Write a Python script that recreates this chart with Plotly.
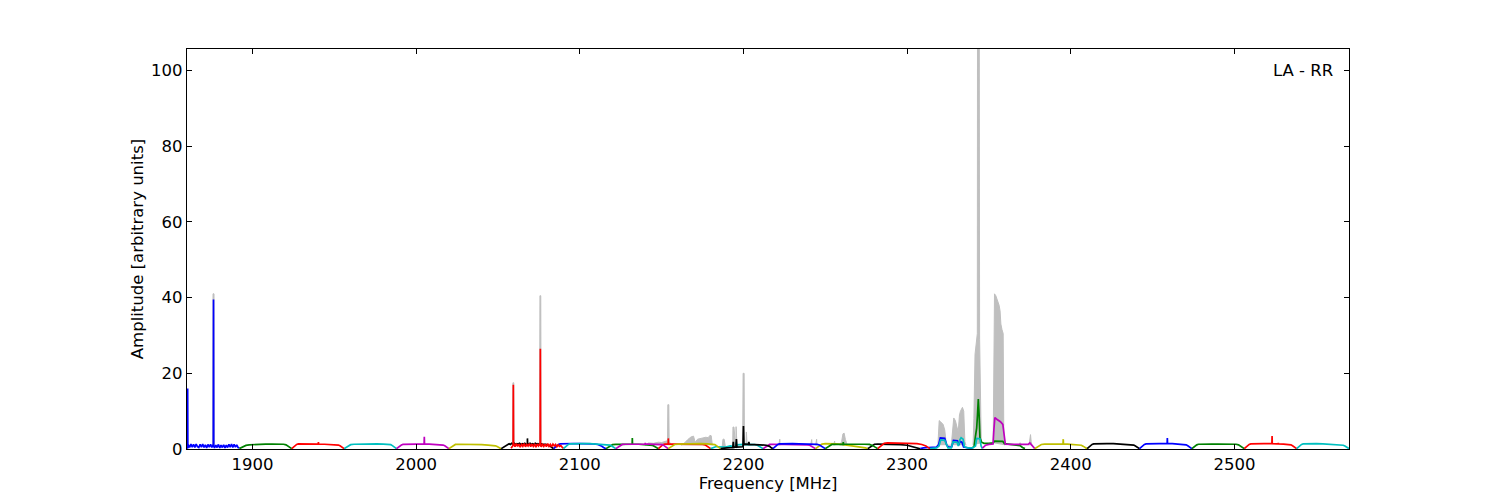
import numpy as np
import plotly.graph_objects as go

# ---------------- data ----------------
WIDTH_MHZ = 32.0
START_A = 1860.0          # first set of 16 sub-bands
START_B = 2058.0          # second set of 16 sub-bands
X_RANGE = [1860.0, 2570.0]
Y_RANGE = [0.0, 105.7]
X_TICKS = [1900, 2000, 2100, 2200, 2300, 2400, 2500]
Y_TICKS = [0, 20, 40, 60, 80, 100]
COLOR_CYCLE = ['#0000ff', '#008000', '#ff0000', '#00bfbf', '#bf00bf', '#bfbf00', '#000000']
GRAY = '#bfbfbf'
LABEL = 'LA - RR'

# channel offsets (MHz inside a sub-band) for the standard bandpass lists
CH_OFFS = [0, 1, 2, 3, 4, 6, 9, 12, 16, 20, 24, 27, 28.5, 29.5, 30.5, 31.3, 32]

# --- set A (start 1860, 32 MHz each) ---
A00 = [0.3, 1.1, 0.4, 1.3, 0.5, 1.2, 0.4, 1.3, 0.6, 0.4, 1.2, 0.5, 1.3, 0.4, 1.1, 0.3, 1.2, 0.5, 1.2, 0.4,
       1.1, 0.3, 1.0, 0.4, 1.2, 0.3, 1.0, 0.4, 1.1, 0.3, 1.0, 0.4, 1.2, 0.5, 1.3, 0.4, 1.2, 0.5, 1.1, 0.4, 0.3]
A01 = [0.1, 0.3, 0.55, 0.8, 0.95, 1.1, 1.2, 1.25, 1.3, 1.3, 1.3, 1.25, 1.1, 0.85, 0.55, 0.25, 0.1]
A02 = [0.1, 0.5, 0.9, 1.2, 1.35, 1.35, 1.3, 1.3, 1.25, 1.25, 1.2, 1.15, 1.05, 0.85, 0.55, 0.25, 0.1]
A03 = [0.1, 0.4, 0.75, 1.0, 1.15, 1.25, 1.3, 1.3, 1.35, 1.35, 1.3, 1.25, 1.15, 0.9, 0.6, 0.3, 0.1]
A04 = [0.1, 0.45, 0.8, 1.05, 1.2, 1.25, 1.3, 1.3, 1.3, 1.3, 1.25, 1.2, 1.05, 0.85, 0.55, 0.25, 0.1]
A05 = [0.1, 0.4, 0.8, 1.05, 1.2, 1.25, 1.25, 1.25, 1.2, 1.15, 1.05, 0.95, 0.85, 0.65, 0.4, 0.2, 0.05]
A06 = [0.1, 0.3, 0.6, 0.9, 1.1, 1.3, 1.4, 1.2, 1.5, 1.3, 1.5, 1.2, 1.4, 1.3, 1.5, 1.2, 1.4, 1.3, 1.5, 1.1,
       1.4, 1.3, 1.5, 1.2, 1.4, 1.2, 1.5, 1.3, 1.4, 1.2, 1.4, 1.3, 1.3, 1.2, 1.2, 1.1, 1.0, 0.8, 0.6, 0.3, 0.1]
A07 = [0.1, 0.5, 0.9, 1.2, 1.35, 1.4, 1.45, 1.45, 1.4, 1.4, 1.35, 1.2, 1.0, 0.7, 0.4, 0.2, 0.05]
A08 = [0.1, 0.4, 0.75, 1.0, 1.15, 1.2, 1.25, 1.25, 1.25, 1.25, 1.2, 1.1, 0.95, 0.7, 0.4, 0.2, 0.1]
A09 = [0.1, 0.5, 0.9, 1.2, 1.3, 1.3, 1.3, 1.3, 1.25, 1.25, 1.25, 1.2, 1.1, 0.85, 0.55, 0.25, 0.1]
A10 = [0.1, 0.3, 0.5, 0.6, 0.6, 0.5, 0.5, 0.8, 1.1, 1.2, 1.2, 1.15, 1.0, 0.8, 0.5, 0.25, 0.1]
A11 = [0.1, 0.4, 0.8, 1.05, 1.2, 1.25, 1.25, 1.25, 1.25, 1.2, 1.15, 1.1, 1.0, 0.8, 0.5, 0.25, 0.1]
A12 = [0.1, 0.4, 0.8, 1.1, 1.3, 1.4, 1.4, 1.35, 1.2, 1.0, 0.8, 0.6, 0.5, 0.4, 0.3, 0.2, 0.1]
A13 = [0.1, 0.4, 0.8, 1.1, 1.25, 1.3, 1.3, 1.3, 1.25, 1.15, 1.0, 0.7, 0.5, 0.35, 0.2, 0.1, 0.05]
A14_F = [2308, 2310, 2313, 2318, 2319.3, 2320.3, 2323, 2324.3, 2325.5, 2327.3, 2328.3, 2330.8, 2331.5,
         2332.3, 2333.5, 2334.5, 2336, 2338, 2340]
A14_V = [0.1, 0.3, 0.4, 0.5, 1.2, 2.9, 2.8, 0.9, 0.5, 0.6, 2.3, 2.2, 1.0, 2.0, 1.8, 0.5, 0.4, 0.3, 0.1]
A15_F = [2340, 2341, 2341.8, 2342.5, 2343, 2343.5, 2344, 2344.5, 2345.5, 2347, 2350, 2352.5, 2353.5,
         2356, 2358.5, 2359.5, 2362, 2366, 2369, 2370.5, 2372]
A15_V = [0.3, 0.8, 3.5, 5.5, 9.0, 13.2, 9.0, 3.0, 1.8, 1.5, 1.5, 1.6, 2.1, 2.1, 2.0, 1.4, 1.3, 1.2, 0.9, 0.4, 0.1]

# --- set B (start 2058, 32 MHz each) ---
B00 = [0.2, 0.9, 1.4, 0.6, 1.4, 0.7, 1.3, 0.5, 1.2, 0.7, 1.4, 0.6, 1.2, 0.8, 1.4, 0.6, 1.3, 0.7, 1.2, 0.5,
       1.3, 0.8, 1.4, 0.6, 1.2, 0.7, 1.3, 0.6, 1.4, 0.7, 1.2, 0.6, 1.3, 0.8, 1.2, 0.6, 1.1, 0.7, 0.9, 0.5, 0.2]
B01 = [0.1, 0.5, 0.9, 1.2, 1.35, 1.4, 1.4, 1.4, 1.4, 1.35, 1.3, 1.2, 1.05, 0.8, 0.5, 0.25, 0.1]
B02 = [0.1, 0.4, 0.8, 1.05, 1.2, 1.25, 1.3, 1.3, 1.3, 1.3, 1.3, 1.25, 1.15, 0.9, 0.6, 0.3, 0.1]
B03 = [0.1, 0.4, 0.8, 1.05, 1.2, 1.3, 1.35, 1.4, 1.4, 1.4, 1.35, 1.3, 1.15, 0.9, 0.6, 0.3, 0.1]
B04_F = [2186, 2187, 2188.5, 2190, 2193.5, 2193.8, 2194.1, 2195.4, 2195.7, 2196, 2199.7, 2200, 2200.3,
         2201, 2203, 2203.3, 2203.6, 2206, 2210, 2214, 2216, 2217, 2218]
B04_V = [0.1, 0.2, 0.3, 0.3, 0.4, 1.9, 0.4, 0.5, 2.6, 0.5, 0.6, 6.1, 1.2, 1.3, 1.2, 1.9, 1.2, 1.1, 1.1, 1.0,
         0.7, 0.3, 0.1]
B05 = [0.1, 0.5, 0.9, 1.2, 1.35, 1.4, 1.4, 1.4, 1.35, 1.35, 1.3, 1.2, 1.05, 0.8, 0.5, 0.25, 0.1]
B06 = [0.1, 0.4, 0.8, 1.05, 1.2, 1.2, 1.15, 1.25, 1.3, 1.3, 1.25, 1.2, 1.0, 0.8, 0.5, 0.25, 0.1]
B07 = [0.1, 0.5, 0.9, 1.3, 1.5, 1.6, 1.6, 1.6, 1.55, 1.5, 1.4, 1.2, 1.0, 0.8, 0.5, 0.25, 0.1]
B08_F = [2314, 2316, 2318, 2319.5, 2320.5, 2323, 2324.3, 2325, 2327, 2328, 2330.5, 2331.3, 2332.3, 2333,
         2334.2, 2335, 2337, 2340, 2341.8, 2342.5, 2344.5, 2345.2, 2346]
B08_V = [0.1, 0.3, 0.3, 0.8, 2.4, 2.3, 0.8, 0.3, 0.3, 1.9, 1.8, 0.8, 2.5, 3.0, 2.6, 0.6, 0.3, 0.3, 0.8, 2.8,
         2.7, 0.8, 0.1]
B09_F = [2346, 2347, 2348, 2350, 2352.5, 2353, 2353.6, 2355, 2357, 2358.5, 2359.2, 2360, 2364, 2370, 2374,
         2375, 2376, 2377, 2378]
B09_V = [0.2, 0.6, 1.0, 1.2, 1.3, 5.0, 8.3, 7.8, 7.2, 6.5, 3.0, 1.3, 1.2, 1.1, 1.2, 1.6, 1.0, 0.5, 0.1]
B10 = [0.1, 0.4, 0.8, 1.05, 1.2, 1.3, 1.35, 1.35, 1.35, 1.3, 1.25, 1.15, 1.0, 0.75, 0.45, 0.2, 0.05]
B11 = [0.1, 0.5, 0.9, 1.2, 1.35, 1.4, 1.4, 1.4, 1.4, 1.35, 1.3, 1.2, 1.05, 0.8, 0.5, 0.25, 0.1]
B12 = [0.1, 0.5, 0.9, 1.2, 1.35, 1.4, 1.4, 1.4, 1.4, 1.4, 1.35, 1.25, 1.1, 0.85, 0.55, 0.25, 0.1]
B13 = [0.1, 0.45, 0.85, 1.1, 1.25, 1.3, 1.3, 1.3, 1.3, 1.3, 1.3, 1.25, 1.1, 0.85, 0.55, 0.25, 0.1]
B14 = [0.1, 0.5, 0.9, 1.2, 1.35, 1.4, 1.4, 1.4, 1.4, 1.35, 1.3, 1.25, 1.1, 0.85, 0.55, 0.25, 0.1]
B15 = [0.1, 0.5, 0.9, 1.2, 1.35, 1.4, 1.4, 1.4, 1.35, 1.3, 1.25, 1.15, 1.0, 0.8, 0.5, 0.25, 0.1]

# narrow RFI spikes kept in the sub-band data: (freq MHz, peak, local level)
SPIKES = {
    'A00': [(1860.4, 16.0, 0.3), (1876.2, 39.5, 0.8)],
    'A02': [(1940.3, 1.8, 1.3)],
    'A04': [(2005.0, 3.2, 1.3)],
    'A06': [(2068.0, 2.8, 1.3)],
    'A08': [(2132.1, 2.9, 1.25)],
    'A09': [(2154.1, 2.8, 1.3)],
    'A10': [(2195.5, 1.8, 0.5)],
    'B00': [(2059.4, 17.0, 1.0), (2075.9, 26.5, 1.0)],
    'B02': [(2140.0, 1.6, 1.3)],
    'B06': [(2261.0, 1.8, 1.2)],
    'B10': [(2395.4, 2.6, 1.35)],
    'B12': [(2459.0, 2.9, 1.4)],
    'B14': [(2523.0, 3.4, 1.4), (2526.8, 1.6, 1.35)],
}

# raw (unflagged) spectrum where it rises above the sub-band data, drawn in grey
RAW_F = [
    [1875.7, 1875.9, 1876.5, 1876.7],
    [2058.9, 2059.15, 2059.65, 2059.9],
    [2075.4, 2075.65, 2076.15, 2076.4],
    [2140, 2142, 2145, 2148, 2150, 2152, 2153.6, 2153.8, 2154.4, 2154.6, 2156],
    [2162, 2164, 2166, 2168, 2169.5, 2170.5, 2172, 2175, 2177, 2178.5, 2179.5, 2180.3, 2181],
    [2187, 2187.5, 2188.2, 2189, 2193.4, 2193.6, 2194.2, 2195.3, 2195.5, 2196.1, 2199.5, 2199.8, 2200.4,
     2200.6, 2201.5, 2201.8, 2202.2, 2203],
    [2221.6, 2221.8, 2222.2, 2222.4],
    [2241.1, 2241.3, 2241.7, 2241.9],
    [2244.1, 2244.3, 2244.7, 2244.9],
    [2255.1, 2255.3, 2255.7, 2255.9],
    [2259, 2260, 2260.8, 2261.5, 2262.3, 2263.5],
    [2318.8, 2319.6, 2320.2, 2321.0, 2322.0, 2323.0, 2323.5, 2324.0, 2327.0, 2327.8, 2328.5, 2329.5,
     2330.5, 2331.2, 2332.0, 2332.6, 2333.8, 2334.6, 2335.3, 2336.0],
    [2340.3, 2340.8, 2341.5, 2342.2, 2342.9, 2343.0, 2344.1, 2344.3, 2344.8, 2345.3],
    [2352.6, 2353.0, 2353.4, 2354.2, 2355.2, 2356.2, 2356.8, 2357.3, 2358.0, 2358.7, 2359.1, 2359.5],
    [2368.5, 2368.8, 2369.3, 2369.6],
    [2374.5, 2375.0, 2375.4, 2375.8, 2376.3],
]
RAW_V = [
    [1.0, 41.0, 41.0, 1.0],
    [1.0, 17.5, 17.5, 1.0],
    [1.0, 40.5, 40.5, 1.0],
    [1.0, 1.6, 1.5, 1.8, 1.7, 2.0, 2.2, 11.7, 11.7, 2.0, 1.0],
    [1.0, 1.6, 2.5, 3.2, 3.4, 1.8, 2.6, 3.0, 3.1, 3.0, 3.6, 3.5, 1.0],
    [0.5, 2.6, 2.6, 0.5, 0.5, 5.8, 5.8, 0.5, 5.9, 0.5, 0.6, 20.0, 20.0, 1.2, 1.2, 4.5, 1.2, 1.0],
    [1.0, 2.6, 2.6, 1.0],
    [1.0, 2.5, 2.5, 1.0],
    [1.0, 2.6, 2.6, 1.0],
    [1.0, 2.1, 2.1, 1.0],
    [1.0, 2.0, 4.0, 4.2, 2.5, 1.0],
    [1.0, 7.5, 7.3, 6.8, 6.5, 5.0, 1.5, 1.0, 1.0, 6.0, 8.2, 7.5, 6.0, 4.5, 9.0, 10.0, 11.0, 10.0, 2.0, 1.0],
    [1.0, 8.0, 25.0, 29.0, 30.5, 105.7, 105.7, 29.0, 10.0, 1.5],
    [1.5, 38.0, 41.0, 40.5, 39.5, 38.0, 36.5, 33.0, 31.5, 30.5, 2.0, 1.0],
    [1.0, 1.6, 1.6, 1.0],
    [1.0, 3.8, 3.8, 2.0, 1.0],
]

SET_A = [('A00', A00), ('A01', A01), ('A02', A02), ('A03', A03), ('A04', A04), ('A05', A05),
         ('A06', A06), ('A07', A07), ('A08', A08), ('A09', A09), ('A10', A10), ('A11', A11),
         ('A12', A12), ('A13', A13), ('A14', (A14_F, A14_V)), ('A15', (A15_F, A15_V))]
SET_B = [('B00', B00), ('B01', B01), ('B02', B02), ('B03', B03), ('B04', (B04_F, B04_V)), ('B05', B05),
         ('B06', B06), ('B07', B07), ('B08', (B08_F, B08_V)), ('B09', (B09_F, B09_V)), ('B10', B10),
         ('B11', B11), ('B12', B12), ('B13', B13), ('B14', B14), ('B15', B15)]


def window_xy(start, data, spikes):
    if isinstance(data, tuple):
        freqs, vals = data
    else:
        vals = data
        if len(vals) == len(CH_OFFS):
            offs = CH_OFFS
        else:
            offs = np.linspace(0.0, WIDTH_MHZ, len(vals))
        freqs = [start + o for o in offs]
    pts = list(zip(freqs, vals))
    for f, peak, base in spikes:
        pts += [(f - 0.12, base), (f, peak), (f + 0.12, base)]
    pts.sort()
    return [p[0] for p in pts], [p[1] for p in pts]


fig = go.Figure()

# grey raw spectrum behind
for fx, fy in zip(RAW_F, RAW_V):
    fig.add_trace(go.Scatter(x=fx, y=fy, mode='lines', fill='toself', fillcolor=GRAY,
                             line=dict(color=GRAY, width=1.0), hoverinfo='skip'))

k = 0
for start, group in ((START_A, SET_A), (START_B, SET_B)):
    for j, (name, data) in enumerate(group):
        xs, ys = window_xy(start + WIDTH_MHZ * j, data, SPIKES.get(name, []))
        fig.add_trace(go.Scatter(x=xs, y=ys, mode='lines', name=name,
                                 line=dict(color=COLOR_CYCLE[k % len(COLOR_CYCLE)], width=1.7)))
        k += 1

FS = 16.5
axis_common = dict(showline=True, linecolor='black', linewidth=1.2, mirror='ticks',
                   ticks='inside', ticklen=5, tickwidth=1, tickcolor='black',
                   showgrid=False, zeroline=False, tickfont=dict(family='DejaVu Sans', size=FS, color='black'))

# page body has an 8 px margin, so the figure is shifted by 8 px; margins compensate
fig.update_layout(
    width=1500, height=500,
    margin=dict(l=179, r=159, t=41, b=59),
    paper_bgcolor='white', plot_bgcolor='white',
    font=dict(family='DejaVu Sans', size=FS, color='black'),
    showlegend=False,
    xaxis=dict(range=X_RANGE, tickvals=X_TICKS,
               title=dict(text='Frequency [MHz]', standoff=2, font=dict(size=FS)),
               **axis_common),
    yaxis=dict(range=Y_RANGE, tickvals=Y_TICKS,
               title=dict(text='Amplitude [arbitrary units]', standoff=3, font=dict(size=FS)),
               **axis_common),
    annotations=[dict(text=LABEL, xref='paper', yref='paper', x=0.988, y=0.9475,
                      xanchor='right', yanchor='middle', showarrow=False,
                      font=dict(size=FS, color='black'))],
)

fig.write_html("out.html")
